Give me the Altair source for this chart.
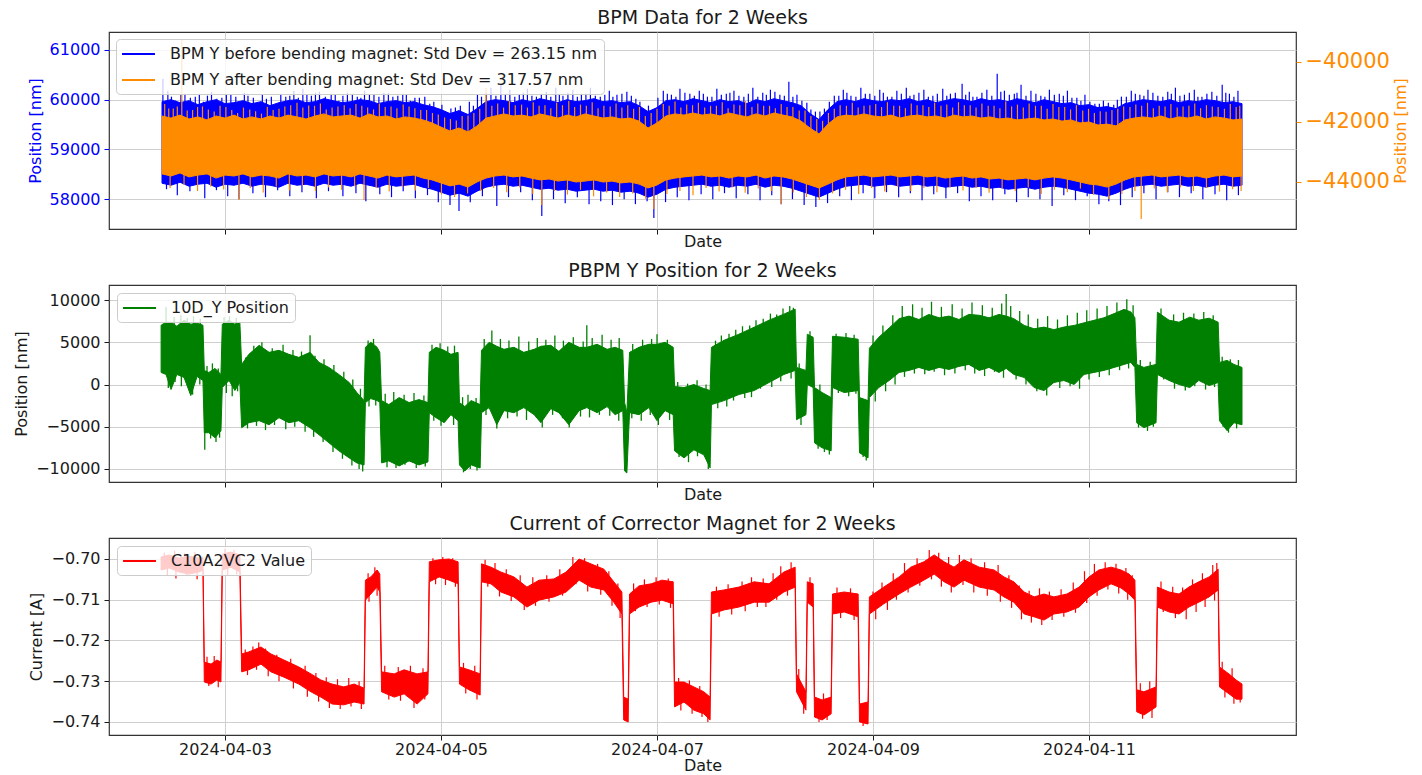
import altair as alt
import pandas as pd

FONT = "DejaVu Sans"
T0 = pd.Timestamp("2024-04-02 00:00:00")


def when(hours):
    """Hours counted from 2024-04-02 00:00 -> timestamps."""
    return [T0 + pd.Timedelta(hours=float(h)) for h in hours]


# ---------------------------------------------------------------- BPM (top)
LABEL_BEFORE = "BPM Y before bending magnet: Std Dev = 263.15 nm"
LABEL_AFTER = "BPM Y after bending magnet: Std Dev = 317.57 nm"

# dense core of the two BPM traces, sampled every 2 h
BPM_HOURS = list(range(10, 251, 2))

BEFORE_HI = [
    59960, 60000, 59940, 59980, 59900, 59960, 60000, 59920, 59940, 59980,
    59920, 59960, 59880, 59940, 59980, 60000, 59940, 59960, 60020, 59980,
    59940, 59960, 60000, 59980, 59920, 59960, 59980, 59940, 59960, 59900,
    59860, 59800, 59720, 59780, 59700, 59820, 59960, 60000, 59980, 59940,
    60000, 59960, 60020, 59980, 59940, 60000, 59960, 59980, 60020, 59960,
    59980, 59940, 59960, 59880, 59760, 59840, 59980, 60000, 59960, 60020,
    59980, 59940, 60000, 59960, 59980, 59920, 60000, 59960, 60020, 59980,
    59940, 59880, 59720, 59600, 59800, 59960, 60000, 59960, 60020, 59980,
    59960, 60000, 59980, 60020, 59960, 60000, 59940, 59980, 60020, 60000,
    59960, 60020, 59980, 60000, 59960, 60020, 59980, 59940, 60000, 59960,
    59920, 59940, 59880, 59900, 59840, 59860, 59820, 59920, 59960, 60000,
    59980, 59960, 60000, 59940, 59980, 59960, 60000, 59980, 59940, 59960,
    59920,
]
BEFORE_LO = [
    58320, 58280, 58340, 58260, 58300, 58320, 58240, 58300, 58280, 58320,
    58260, 58300, 58280, 58240, 58320, 58280, 58300, 58260, 58320, 58280,
    58300, 58260, 58320, 58280, 58240, 58300, 58260, 58280, 58300, 58240,
    58200, 58140, 58080, 58120, 58060, 58160, 58240, 58280, 58300, 58260,
    58280, 58240, 58200, 58220, 58180, 58200, 58160, 58180, 58200, 58160,
    58180, 58140, 58160, 58120, 58040, 58100, 58200, 58240, 58260, 58280,
    58300, 58260, 58280, 58240, 58280, 58260, 58300, 58240, 58280, 58260,
    58220, 58160, 58100, 58040, 58120, 58200, 58260, 58280, 58300, 58260,
    58280, 58300, 58260, 58280, 58300, 58260, 58280, 58240, 58260, 58280,
    58240, 58260, 58220, 58240, 58200, 58220, 58240, 58200, 58240, 58260,
    58240, 58200, 58160, 58120, 58100, 58060, 58120, 58200, 58260, 58280,
    58300, 58260, 58280, 58300, 58260, 58280, 58240, 58280, 58300, 58260,
    58280,
]
AFTER_HI = [
    -41800, -41870, -41770, -41900, -41830, -41930, -41800, -41870, -41770, -41900,
    -41830, -41900, -41800, -41870, -41770, -41830, -41900, -41800, -41730, -41830,
    -41800, -41770, -41870, -41730, -41830, -41800, -41900, -41830, -41870, -41930,
    -42030, -42170, -42300, -42200, -42330, -42130, -41870, -41800, -41730, -41800,
    -41770, -41830, -41730, -41800, -41870, -41770, -41830, -41730, -41800, -41870,
    -41830, -41900, -41870, -41970, -42200, -42030, -41800, -41730, -41770, -41700,
    -41770, -41730, -41800, -41700, -41770, -41830, -41730, -41800, -41700, -41770,
    -41830, -41970, -42200, -42400, -42070, -41830, -41770, -41800, -41730, -41800,
    -41830, -41770, -41870, -41800, -41770, -41830, -41800, -41870, -41770, -41830,
    -41800, -41870, -41830, -41900, -41870, -41930, -41900, -41870, -41930, -41900,
    -41970, -41930, -42030, -42000, -42100, -42070, -42130, -41930, -41870, -41830,
    -41870, -41800, -41900, -41830, -41870, -41800, -41900, -41830, -41870, -41930,
    -41900,
]
AFTER_LO = [
    -43730, -43800, -43700, -43830, -43770, -43730, -43870, -43770, -43800, -43730,
    -43830, -43770, -43800, -43870, -43730, -43800, -43770, -43830, -43730, -43800,
    -43770, -43830, -43730, -43800, -43870, -43770, -43830, -43800, -43770, -43870,
    -43930, -44030, -44130, -44070, -44170, -44000, -43870, -43800, -43770, -43830,
    -43800, -43870, -43930, -43900, -43970, -43930, -44000, -43970, -43930, -44000,
    -43970, -44030, -44000, -44070, -44200, -44100, -43930, -43870, -43830, -43800,
    -43770, -43830, -43800, -43870, -43800, -43830, -43770, -43870, -43800, -43830,
    -43900, -44000, -44100, -44200, -44070, -43930, -43830, -43800, -43770, -43830,
    -43800, -43770, -43830, -43800, -43770, -43830, -43800, -43870, -43830, -43800,
    -43870, -43830, -43900, -43870, -43930, -43900, -43870, -43930, -43870, -43830,
    -43870, -43930, -44000, -44070, -44100, -44170, -44070, -43930, -43830, -43800,
    -43770, -43830, -43800, -43770, -43830, -43800, -43870, -43800, -43770, -43830,
    -43800,
]

# individual excursions of the BPM traces beyond their dense core
BEFORE_CENTER = 59000
BEFORE_SPIKE_H = [
    # upward
    10.2, 11.3, 13.0, 15.1, 17.4, 19.2, 21.0, 23.3, 25.3, 27.4, 29.1, 31.4, 33.2, 35.2,
    37.5, 39.3, 41.3, 43.2, 45.0, 47.6, 49.3, 51.2, 53.4, 55.0, 57.1, 59.3, 61.3, 63.5,
    65.2, 67.2, 69.5, 71.3, 73.1, 75.2, 77.4, 79.2, 81.0, 83.1, 85.3, 87.3, 89.4, 91.2,
    93.2, 95.4, 97.5, 99.1, 101.3, 103.2, 105.2, 107.4, 109.4, 111.1, 113.3, 115.3,
    117.2, 119.0, 121.4, 123.2, 125.1, 127.3, 129.4, 131.2, 133.3, 135.4, 137.1, 139.3,
    141.3, 143.5, 145.2, 147.3, 149.3, 151.1, 153.3, 155.2, 157.2, 159.4, 161.4, 163.1,
    165.3, 167.3, 169.5, 171.2, 173.3, 175.4, 177.1, 179.3, 181.3, 183.5, 185.2, 187.8,
    189.4, 191.1, 193.3, 195.6, 197.2, 199.4, 200.9, 203.1, 205.3, 207.2, 209.4, 211.2,
    213.3, 215.1, 217.3, 219.2, 221.5, 223.2, 225.4, 227.3, 229.1, 231.3, 233.5, 235.2,
    237.2, 239.4, 241.1, 243.3, 245.6, 247.2, 249.1,
    # upward, smaller
    12.1, 14.2, 16.3, 18.3, 20.1, 22.2, 24.3, 26.4, 28.3, 30.3, 32.3, 34.3, 36.4, 38.4,
    40.3, 42.2, 44.1, 46.3, 48.5, 50.2, 52.3, 54.2, 56.1, 58.2, 60.3, 62.4, 64.3, 66.2,
    68.4, 70.4, 72.2, 74.2, 76.3, 78.3, 80.1, 82.1, 84.2, 86.3, 88.4, 90.3, 92.2, 94.3,
    96.4, 98.3, 100.2, 102.3, 104.2, 106.3, 108.4, 110.2, 112.2, 114.3, 116.2, 118.1,
    120.2, 122.3, 124.2, 126.2, 128.3, 130.3, 132.2, 134.3, 136.2, 138.2, 140.3, 142.4,
    144.3, 146.2, 148.3, 150.2, 152.2, 154.2, 156.2, 158.3, 160.4, 162.2, 164.2, 166.3,
    168.4, 170.3, 172.2, 174.3, 176.2, 178.2, 180.3, 182.3, 184.4, 186.3, 188.6, 190.2,
    192.2, 194.4, 196.4, 198.3, 200.0, 202.0, 204.2, 206.2, 208.3, 210.3, 212.2, 214.2,
    216.2, 218.3, 220.3, 222.3, 224.3, 226.3, 228.2, 230.2, 232.4, 234.3, 236.2, 238.3,
    240.2, 242.2, 244.4, 246.4, 248.2,
    # downward
    11.0, 13.4, 16.2, 19.5, 22.1, 24.6, 27.1, 30.2, 33.0, 35.7, 38.4, 41.1, 44.3, 47.0,
    50.2, 53.1, 55.3, 58.4, 61.0, 63.6, 66.3, 69.0, 71.4, 74.0, 76.0, 78.5, 81.2, 84.4,
    87.0, 89.7, 92.3, 94.4, 97.0, 99.6, 102.3, 104.9, 107.5, 110.1, 112.7, 115.2, 117.8,
    119.3, 121.9, 124.5, 127.1, 129.8, 132.4, 135.0, 137.6, 140.2, 142.9, 145.5, 147.6,
    150.1, 152.7, 155.3, 157.9, 160.6, 163.2, 165.8, 168.4, 171.0, 173.7, 176.3, 178.9,
    181.5, 184.2, 186.8, 189.4, 192.0, 194.6, 197.3, 199.9, 202.5, 205.1, 207.8, 210.4,
    213.0, 215.6, 218.2, 220.4, 223.0, 225.6, 228.2, 230.9, 233.5, 236.1, 238.7, 241.3,
    244.0, 246.6, 249.2,
]
BEFORE_SPIKE_V = [
    60420, 60180, 59980, 60120, 60060, 59960, 60150, 60040, 60100, 59960, 60080, 59900, 60020, 59880,
    60060, 60180, 60220, 60080, 60160, 60120, 59980, 60140, 60060, 60180, 60100, 60140, 60060, 60120,
    59980, 60040, 59920, 59800, 59720, 59840, 59680, 59880, 60060, 60240, 60320, 60200, 60100, 60220,
    60060, 60160, 60240, 60080, 60200, 60120, 60240, 60060, 60180, 60100, 60160, 60020,
    59800, 59760, 60180, 60100, 60220, 60120, 60180, 60060, 60220, 60120, 60180, 60060,
    60240, 60140, 60200, 60100, 60360, 60100, 59940, 59760, 59820, 60080, 60200, 60080,
    60240, 60120, 60200, 60060, 60180, 60240, 60100, 60200, 60080, 60220, 60120, 60320,
    60160, 60060, 60200, 60520, 60180, 60120, 60300, 60180, 60080, 60200, 60120, 60180,
    60040, 60100, 59920, 59980, 59900, 60060, 60180, 60100, 60200, 60080, 60160, 60240,
    60100, 60200, 60060, 60160, 60300, 60120, 60180,
    60060, 60100, 60040, 60120, 60080, 60020, 60100, 60060, 60140, 60040, 60100, 60060, 60120, 60080,
    60040, 60100, 60140, 60060, 60100, 60080, 60120, 60040, 60100, 60060, 60140, 60080, 60100, 60040,
    60060, 59960, 59900, 59820, 59880, 59960, 60100, 60140, 60080, 60120, 60060, 60140, 60080, 60120,
    60060, 60100, 60140, 60060, 60120, 60080, 60100, 60060, 60120, 60080, 59960, 59880,
    60040, 60120, 60060, 60140, 60080, 60120, 60060, 60100, 60140, 60080, 60120, 60060,
    60100, 60160, 60080, 60060, 59980, 59800, 59760, 59960, 60080, 60140, 60060, 60120,
    60080, 60140, 60060, 60120, 60080, 60140, 60060, 60120, 60080, 60140, 60100, 60060,
    60140, 60080, 60160, 60100, 60140, 60080, 60120, 60060, 60100, 60080, 60040, 59980,
    59960, 59920, 59940, 60000, 60060, 60120, 60080, 60140, 60060, 60120, 60080, 60140,
    60060, 60120, 60080, 60140, 60060,
    58200, 58080, 58160, 58020, 58180, 58060, 58000, 58120, 58040, 58180, 58060, 58140, 58020, 58160,
    58060, 58120, 57960, 58100, 58040, 58160, 58020, 58080, 57940, 57880, 57760, 57940, 58060, 57860,
    58040, 58140, 57980, 57660, 58000, 57920, 58040, 57900, 57960, 57880, 58000, 57900, 57960,
    57620, 57940, 58040, 57980, 58100, 58000, 58120, 58020, 58100, 57980, 58080, 57900,
    58000, 57880, 57840, 57920, 58060, 57980, 58120, 58020, 58140, 58040, 58120, 57980,
    58100, 58020, 58120, 57960, 58060, 57980, 58100, 57940, 58040, 58000, 57860, 58080,
    57980, 58060, 57900, 57960, 57880, 58040, 58120, 58000, 58140, 58040, 58120, 58000,
    58100, 57980, 58080,
]

AFTER_CENTER = -42800
AFTER_SPIKE_H = [
    # upward
    10.6, 12.5, 14.4, 16.8, 19.0, 21.6, 24.2, 26.8, 29.5, 32.1, 34.7, 37.3, 40.0, 42.6,
    45.2, 47.8, 50.5, 53.1, 55.7, 58.3, 60.9, 63.6, 66.2, 68.8, 71.4, 74.1, 76.7, 79.3,
    82.0, 84.6, 87.2, 89.9, 92.5, 95.1, 97.7, 100.4, 103.0, 105.6, 108.2, 110.9, 113.5,
    116.1, 118.7, 121.4, 124.0, 126.6, 129.2, 131.9, 134.5, 137.1, 139.7, 142.4, 145.0,
    147.6, 150.2, 152.9, 155.5, 158.1, 160.7, 163.4, 166.0, 168.6, 171.2, 173.9, 176.5,
    179.1, 181.7, 184.4, 187.0, 189.6, 192.2, 194.9, 197.5, 200.1, 202.7, 205.4, 208.0,
    210.6, 213.2, 215.9, 218.5, 221.1, 223.7, 226.4, 229.0, 231.6, 234.2, 236.9, 239.5,
    242.1, 244.7, 247.4, 249.5,
    # upward, smaller
    11.5, 13.4, 15.6, 17.9, 20.3, 22.9, 25.5, 28.1, 30.8, 33.4, 36.0, 38.6, 41.3, 43.9,
    46.5, 49.1, 51.8, 54.4, 57.0, 59.6, 62.2, 64.9, 67.5, 70.1, 72.8, 75.4, 78.0, 80.6,
    83.3, 85.9, 88.5, 91.2, 93.8, 96.4, 99.0, 101.7, 104.3, 106.9, 109.6, 112.2, 114.8,
    117.4, 120.0, 122.7, 125.3, 127.9, 130.6, 133.2, 135.8, 138.4, 141.1, 143.7, 146.3,
    148.9, 151.6, 154.2, 156.8, 159.4, 162.1, 164.7, 167.3, 169.9, 172.6, 175.2, 177.8,
    180.4, 183.1, 185.7, 188.3, 190.9, 193.6, 196.2, 198.8, 201.4, 204.1, 206.7, 209.3,
    211.9, 214.6, 217.2, 219.8, 222.4, 225.1, 227.7, 230.3, 232.9, 235.6, 238.2, 240.8,
    243.4, 246.1, 248.7,
    # downward
    11.8, 14.9, 17.9, 20.8, 23.7, 27.1, 29.6, 32.5, 35.4, 38.3, 41.2, 44.1, 47.0, 49.9,
    52.8, 54.9, 57.6, 60.5, 63.4, 66.3, 69.2, 72.1, 75.0, 77.9, 80.8, 83.7, 86.6, 89.5,
    92.4, 94.4, 97.2, 100.1, 103.0, 105.9, 108.8, 111.7, 114.6, 117.5, 119.3, 122.2,
    125.1, 128.0, 130.9, 133.8, 136.7, 139.6, 142.5, 145.4, 147.6, 150.3, 153.2, 156.1,
    159.0, 161.9, 164.8, 167.7, 170.6, 173.5, 176.4, 179.3, 182.2, 185.1, 188.0, 190.9,
    193.8, 196.7, 199.6, 202.5, 205.4, 208.3, 211.2, 214.1, 217.0, 220.4, 223.3, 226.2,
    227.6, 230.5, 233.4, 236.3, 239.2, 242.1, 245.0, 247.9, 249.8,
]
AFTER_SPIKE_V = [
    -41400, -41550, -39270, -41600, -41480, -41650, -41500, -41700, -41580, -41720, -41600, -41480, -41360, -41450,
    -41380, -41520, -41440, -41400, -41520, -41380, -41480, -41420, -41540, -41600, -41750, -41900, -41800, -41700,
    -40870, -41380, -41300, -41420, -41340, -41440, -41360, -41300, -41420, -41340, -41460, -41380, -41440,
    -41500, -41700, -41400, -41320, -41420, -41360, -41460, -41340, -41420, -41300, -41380, -41460,
    -41400, -41500, -41620, -41900, -41700, -41440, -41360, -41460, -41400, -41340, -41460, -41380,
    -41440, -41360, -41420, -41340, -41440, -41380, -41460, -41320, -41420, -41380, -41460, -41400,
    -41500, -41440, -41560, -41640, -41600, -41480, -41420, -41360, -41460, -41400, -41480, -41380,
    -41440, -41500, -41400, -41460,
    -41550, -41480, -41620, -41500, -41580, -41460, -41600, -41520, -41640, -41500, -41560, -41440, -41520, -41460,
    -41580, -41480, -41540, -41460, -41580, -41500, -41540, -41480, -41600, -41700, -41850, -41950, -41780, -41560,
    -41460, -41520, -41440, -41520, -41460, -41540, -41440, -41500, -41460, -41540, -41480, -41520, -41560,
    -41800, -41560, -41460, -41520, -41440, -41520, -41460, -41540, -41440, -41500, -41460, -41540,
    -41500, -41620, -41800, -41960, -41560, -41460, -41520, -41440, -41500, -41460, -41540, -41440,
    -41500, -41460, -41520, -41440, -41520, -41460, -41540, -41480, -41520, -41460, -41560, -41500,
    -41580, -41620, -41700, -41660, -41560, -41500, -41460, -41540, -41480, -41520, -41460, -41540,
    -41480, -41560, -41500,
    -44200, -44100, -44300, -44150, -44250, -44600, -44200, -44350, -44150, -44280, -44120, -44300, -44180, -44260,
    -44140, -44600, -44200, -44320, -44160, -44280, -44200, -44420, -44500, -44380, -44300, -44200, -44340, -44180,
    -44400, -44770, -44300, -44420, -44260, -44480, -44350, -44500, -44380, -44560, -44900, -44400,
    -44300, -44440, -44200, -44320, -44180, -44360, -44220, -44300, -44730, -44350, -44500, -44600,
    -44380, -44260, -44400, -44200, -44320, -44160, -44300, -44200, -44340, -44180, -44280, -44200,
    -44360, -44220, -44300, -44180, -44400, -44260, -44340, -44220, -44420, -44570, -44400, -44300,
    -45230, -44220, -44340, -44180, -44300, -44200, -44320, -44240, -44300,
]

# ---------------------------------------------------------------- PBPM (middle)
LABEL_PBPM = "10D_Y Position"

PBPM_H = [
    9.8, 10.9, 12.0, 13.3, 14.9, 16.4, 17.8, 19.1,
    19.4, 20.4, 21.8, 23.1,
    23.4, 24.9, 26.2, 27.3,
    27.7, 29.3, 31.6, 33.8, 36.0, 38.2, 40.4, 42.9, 44.9, 47.1, 49.3, 51.6, 53.3, 54.9,
    55.2, 56.4, 57.8, 58.4,
    58.8, 60.4, 62.7, 64.9, 67.1, 69.1,
    69.4, 70.9, 72.7, 74.2, 75.8,
    76.1, 77.3, 78.7, 80.7,
    81.0, 82.7, 84.4, 86.0, 88.2, 90.4, 92.7, 94.2, 96.4, 98.2, 100.4, 102.7, 104.4,
    106.7, 108.9, 110.7, 112.4,
    112.8, 113.3,
    113.9, 116.0, 118.2, 120.0, 121.8, 123.6,
    123.9, 126.0, 128.2, 130.4, 131.8,
    132.1, 134.9, 138.2, 141.6, 144.9, 148.2, 150.7,
    151.0, 153.1,
    153.4, 154.7,
    155.0, 156.7, 158.7,
    159.0, 161.6, 164.7,
    165.0, 166.9,
    167.2, 169.3, 171.6, 173.8, 176.0, 178.2, 180.4, 182.7, 184.9, 187.1, 189.3, 191.6,
    193.8, 196.0, 197.6, 199.3, 201.6, 203.8, 206.0, 208.2, 210.4, 212.7, 214.9, 217.1,
    219.3, 221.6, 223.8, 225.3, 226.2,
    226.6, 228.2, 230.9,
    231.2, 233.8, 236.0, 238.4, 240.4, 242.7, 244.7,
    245.0, 246.7, 248.2, 250.0,
]
PBPM_HI = [
    7024, 7381, 7381, 6905, 7619, 7143, 7262, 7024,
    1667, 1429, 1905, 1191,
    7143, 7619, 7143, 7381,
    2381, 3572, 4643, 3810, 4048, 3572, 3214, 3810, 2619, 2024, 1191, 238, -952, -1905,
    4405, 5000, 4405, 3810,
    -1905, -2381, -1548, -2143, -1786, -2143,
    3810, 4405, 4048, 3572, 3810,
    -2143, -2619, -1905, -2381,
    4048, 5000, 4524, 4167, 4405, 3810, 4167, 4524, 4643, 3929, 5000, 4405, 4405,
    4762, 4167, 4405, 4048,
    -2143, -3333,
    3810, 4405, 4762, 4762, 5000, 4405,
    -238, -357, 0, -476, -714,
    4405, 5238, 5953, 6786, 7619, 8334, 8929,
    2024, 1667,
    5953, 5595,
    -357, -952, -1548,
    5714, 5595, 5357,
    -1548, -1905,
    4300, 5600, 6700, 7800, 8100, 7700, 8300, 7900, 8100, 7700, 8300, 8200,
    7900, 8300, 8100, 7800, 7000, 6600, 6800, 6500, 6800, 7000, 7300, 7600,
    7900, 8400, 8900, 8600, 7900,
    2381, 2024, 2381,
    8572, 7619, 7381, 7976, 7619, 7857, 7381,
    2619, 2857, 2381, 2024,
]
PBPM_LO = [
    1429, 1191, -595, 1191, 833, -1310, 952, 476,
    -5714, -5714, -6310, -5476,
    -357, 476, -714, 238,
    -5119, -4524, -4286, -4762, -3929, -4524, -4286, -5119, -5953, -6905, -7857, -8691, -9286, -9524,
    -2143, -1667, -1905, -2143,
    -9286, -9048, -9643, -9048, -9524, -9167,
    -3333, -3929, -4524, -3572, -4286,
    -9524, -10238, -9524, -9881,
    -3333, -2738, -4762, -3095, -3333, -2738, -3572, -4524, -2857, -3333, -4762, -3095, -2738,
    -3333, -2619, -3572, -3095,
    -10238, -10476,
    -3333, -3572, -2738, -4286, -3095, -3572,
    -7857, -8691, -7738, -8334, -9881,
    -2381, -1905, -1191, -714, 238, 1191, 1667,
    -4167, -3572,
    0, -357,
    -6905, -7500, -7857,
    -357, -952, -714,
    -8095, -8691,
    -1548, -357, 476, 1429, 1667, 2024, 1667, 2024, 1786, 2143, 2381, 1667,
    2024, 1429, 1905, 1191, 833, -357, -714, 238, 476, 0, 1191, 1429,
    1667, 2024, 2381, 2619, 2024,
    -4524, -5119, -4524,
    1191, 476, 0, -357, 476, -119, 238,
    -4286, -5476, -4524, -4762,
]
# excursions: time, level inside the band where the excursion starts, peak
PBPM_SPIKE_H = [
    10.9, 12.7, 14.2, 15.6, 17.0, 18.5, 11.4, 12.9, 14.3, 15.8, 16.8, 18.4,
    20.0, 21.2, 22.5, 19.5, 20.8, 22.0, 22.8,
    23.8, 25.0, 26.5, 24.3, 25.6, 26.8,
    28.6, 30.4, 32.2, 34.5, 36.9, 39.1, 41.0, 42.9, 44.0, 46.0, 48.2, 50.4, 52.4, 54.1,
    29.0, 31.0, 33.0, 35.0, 37.5, 39.5, 41.8, 43.7, 45.8, 48.0, 50.1, 52.2, 53.8, 54.6,
    55.8, 57.0, 56.0, 57.5,
    59.6, 61.5, 63.8, 66.0, 68.2, 60.0, 62.0, 64.0, 66.5, 68.5,
    70.0, 71.8, 73.5, 75.0, 70.4, 72.0, 74.8,
    76.8, 78.0, 79.8, 77.0, 78.5, 80.0,
    81.6, 83.3, 85.2, 87.1, 89.3, 91.5, 93.4, 95.3, 97.3, 99.2, 101.4, 103.6, 104.4,
    105.6, 107.8, 109.8, 111.6,
    82.0, 84.4, 86.8, 88.9, 91.0, 93.2, 94.5, 96.8, 99.0, 100.5, 103.0, 105.0, 107.2,
    109.5, 111.5,
    114.6, 116.8, 118.8, 120.0, 122.3, 114.4, 116.5, 118.5, 120.3, 122.8,
    124.6, 126.8, 128.9, 130.9, 124.9, 127.0, 129.0, 131.4,
    133.0, 134.3, 136.0, 137.5, 139.0, 140.6, 142.0, 143.6, 145.2, 146.6, 148.0, 149.5, 150.3,
    133.5, 135.5, 137.0, 139.5, 141.0, 143.0, 145.5, 147.5, 149.8,
    151.6, 152.0, 154.0, 156.2, 155.8, 157.2, 158.3,
    159.8, 162.0, 163.8, 160.3, 162.6, 164.2, 165.8, 166.5,
    168.0, 170.2, 172.4, 174.5, 176.8, 178.9, 181.0, 183.2, 185.6, 187.8, 190.0, 192.3,
    194.5, 196.6, 197.6, 198.6, 200.6, 202.5, 204.6, 206.8, 209.0, 211.2, 213.4, 215.5,
    217.8, 220.0, 222.2, 224.4, 225.8,
    168.5, 170.8, 172.9, 175.0, 177.2, 179.5, 181.6, 183.9, 186.2, 188.5, 190.6, 192.8,
    195.0, 197.0, 199.8, 202.0, 204.4, 206.6, 209.5, 211.8, 213.9, 216.0, 218.3, 220.5,
    222.8, 224.8,
    227.4, 229.6, 227.0, 229.0, 230.3,
    232.0, 234.8, 237.0, 239.3, 241.5, 243.6, 232.6, 235.0, 237.4, 239.5, 241.9, 243.9,
    245.6, 247.4, 249.2, 245.8, 247.0, 248.8,
]
PBPM_SPIKE_BASE = [
    4000, 4000, 4000, 4000, 4000, 4000, 4000, 4000, 4000, 4000, 4000, 4000,
    -2000, -2000, -2000, -2000, -2000, -2000, -2000,
    3500, 3500, 3500, 3500, 3500, 3500,
    -1000, 0, 0, 0, 0, 0, -500, -500, -1500, -2000, -3000, -4000, -5000, -5500,
    -1000, -1000, -1000, -1000, -1000, -1000, -1000, -1000, -2000, -3000, -4000, -5000, -6000, -6000,
    1000, 1000, 1000, 1000,
    -5500, -5500, -5500, -5500, -5500, -5500, -5500, -5500, -5500, -5500,
    0, 0, 0, 0, 0, 0, 0,
    -6000, -6000, -6000, -6000, -6000, -6000,
    0, 0, 0, 0, 0, 0, 0, 0, 0, 0, 0, 0, 0,
    0, 0, 0, 0,
    0, 0, 0, 0, 0, 0, 0, 0, 0, 0, 0, 0, 0,
    0, 0,
    0, 0, 0, 0, 0, 0, 0, 0, 0, 0,
    -4000, -4000, -4000, -4000, -4000, -4000, -4000, -4000,
    1000, 1000, 2000, 2000, 2500, 3000, 3000, 3500, 4000, 4000, 5000, 5000, 5000,
    1000, 1000, 2000, 2500, 3000, 3000, 4000, 5000, 5000,
    -1000, -1000, 2500, -4000, -4000, -4000, -4000,
    2000, 2000, 2000, 2000, 2000, 2000, -5000, -5000,
    4500, 4500, 4500, 4500, 4500, 4500, 4500, 4500, 4500, 4500, 4500, 4500,
    4500, 4500, 4500, 4500, 4500, 4500, 4500, 4500, 4500, 4500, 4500, 4500,
    4500, 4500, 4500, 4500, 4500,
    4500, 4500, 4500, 4500, 4500, 4500, 4500, 4500, 4500, 4500, 4500, 4500,
    4500, 4500, 4500, 4500, 4500, 4500, 4500, 4500, 4500, 4500, 4500, 4500,
    4500, 4500,
    -1000, -1000, -1000, -1000, -1000,
    3500, 3500, 3500, 3500, 3500, 3500, 3500, 3500, 3500, 3500, 3500, 3500,
    -1000, -1000, -1000, -1000, -1000, -1000,
]
PBPM_SPIKE_V = [
    9170, 8000, 8200, 7900, 8100, 7800, -400, 300, -200, 500, -1200, 0,
    2200, 2500, 1900, -7740, -6400, -6800, -6300,
    8000, 8100, 7900, -1000, -1400, -800,
    3200, 4600, 5000, 4300, 4700, 4100, 3900, 5830, 3400, 3000, 2300, 1500, 600, -500,
    -5200, -4900, -5400, -4800, -5300, -5000, -5600, -6200, -6800, -8000, -8800, -9600, -10000, -10300,
    5200, 5400, -2600, -2500,
    -1100, -900, -1200, -1000, -1300, -9800, -9900, -9500, -9900, -9700,
    4700, 4900, 4500, 4600, -4300, -4900, -4800,
    -1500, -1200, -1600, -10400, -10000, -10200,
    5400, 6400, 5400, 5200, 5700, 5100, 5500, 5300, 5800, 5200, 5600, 5100, 7020,
    5500, 5900, 5300, 5500,
    -3600, -5200, -4000, -3800, -4200, -3900, -5100, -3600, -4000, -5100, -3800, -3900, -3600,
    -3700, -4300,
    4800, 5300, 5400, 5950, 5300, -4000, -4300, -3600, -4800, -4200,
    300, 100, 500, 0, -8600, -9200, -8500, -10000,
    5200, 5800, 6000, 6500, 6900, 7000, 7600, 7800, 8400, 8300, 9000, 9300, 9100,
    -2800, -2600, -1900, -1600, -1500, -500, -300, 400, 700,
    2500, -4800, 6300, 0, -7600, -8000, -8300,
    6000, 6100, 5900, -1000, -1400, -1100, -8600, -9000,
    5800, 7000, 8200, 9300, 9500, 9100, 9800, 9200, 9500, 9000, 9700, 9400,
    9100, 9600, 10710, 9300, 8700, 8300, 7800, 8100, 7700, 8200, 8500, 8800,
    9000, 9300, 9700, 10100, 9400,
    -2000, -800, 0, 900, 1300, 1200, 1500, 1100, 1300, 1700, 1300, 1000,
    1500, 800, 600, 0, -800, -1300, -400, -200, -500, 600, 900, 1100,
    1700, 1900,
    2900, 2700, -5100, -5500, -5000,
    9000, 8300, 8500, 8400, 8600, 8200, 600, -500, -700, -200, -600, -300,
    3300, 3000, 2900, -5000, -5700, -5200,
]

# ---------------------------------------------------------------- corrector (bottom)
LABEL_CORR = "C10A2VC2 Value"

CORR_H = [
    9.8, 11.6, 13.8, 16.0, 18.2, 19.1,
    19.4, 20.9, 22.2, 23.1,
    23.4, 25.3, 27.3,
    27.7, 29.3, 32.0, 34.2, 37.1, 40.4, 43.1, 45.3, 47.8, 50.4, 52.7, 54.9,
    55.2, 56.4, 57.8, 58.4,
    58.8, 61.6, 63.8, 66.7, 69.1,
    69.4, 71.6, 73.8, 75.8,
    76.1, 78.2, 80.7,
    81.0, 83.1, 85.3, 88.2, 91.1, 93.8, 97.1, 99.8, 102.7, 105.3, 108.2, 110.4, 112.2,
    112.6, 113.6,
    113.9, 116.0, 118.7, 121.1, 123.6,
    123.9, 126.0, 128.2, 130.4, 131.8,
    132.1, 134.9, 138.2, 141.6, 144.9, 148.2, 150.7,
    151.0, 153.1,
    153.4, 154.7,
    155.0, 156.7, 158.7,
    159.0, 161.6, 164.7,
    165.0, 166.9,
    167.2, 170.4, 173.8, 176.4, 179.3, 181.6, 183.8, 186.0, 188.2, 191.6, 194.9, 197.1,
    199.3, 201.6, 203.8, 206.0, 208.2, 211.1, 213.8, 216.0, 218.2, 220.9, 223.1, 224.9, 226.2,
    226.6, 228.2, 230.9,
    231.2, 233.8, 236.0, 238.2, 240.4, 242.7, 244.7,
    245.0, 247.1, 248.7, 250.0,
]
CORR_HI = [
    -0.6995, -0.6990, -0.6998, -0.6993, -0.6998, -0.6995,
    -0.7253, -0.7258, -0.7248, -0.7253,
    -0.6988, -0.6983, -0.6990,
    -0.7233, -0.7228, -0.7216, -0.7233, -0.7248, -0.7265, -0.7282, -0.7297, -0.7307, -0.7314, -0.7307, -0.7317,
    -0.7052, -0.7044, -0.7027, -0.7037,
    -0.7277, -0.7282, -0.7272, -0.7282, -0.7277,
    -0.7007, -0.7002, -0.7000, -0.7007,
    -0.7265, -0.7272, -0.7282,
    -0.7012, -0.7020, -0.7032, -0.7044, -0.7069, -0.7052, -0.7049, -0.7032, -0.7000, -0.7012, -0.7025, -0.7056, -0.7081,
    -0.7339, -0.7344,
    -0.7086, -0.7066, -0.7061, -0.7052, -0.7056,
    -0.7302, -0.7302, -0.7314, -0.7326, -0.7339,
    -0.7081, -0.7076, -0.7069, -0.7056, -0.7061, -0.7032, -0.7020,
    -0.7282, -0.7326,
    -0.7056, -0.7061,
    -0.7339, -0.7346, -0.7339,
    -0.7086, -0.7081, -0.7086,
    -0.7356, -0.7351,
    -0.7093, -0.7069, -0.7044, -0.7020, -0.7007, -0.6990, -0.7007, -0.7020, -0.7002, -0.7020, -0.7027, -0.7044,
    -0.7056, -0.7081, -0.7093, -0.7086, -0.7093, -0.7086, -0.7069, -0.7044, -0.7027, -0.7020, -0.7027, -0.7037, -0.7052,
    -0.7321, -0.7326, -0.7314,
    -0.7069, -0.7081, -0.7086, -0.7069, -0.7056, -0.7044, -0.7025,
    -0.7265, -0.7282, -0.7297, -0.7307,
]
CORR_LO = [
    -0.7027, -0.7022, -0.7032, -0.7037, -0.7032, -0.7027,
    -0.7302, -0.7307, -0.7297, -0.7302,
    -0.7027, -0.7020, -0.7032,
    -0.7277, -0.7272, -0.7258, -0.7277, -0.7290, -0.7307, -0.7326, -0.7339, -0.7356, -0.7358, -0.7351, -0.7356,
    -0.7101, -0.7086, -0.7069, -0.7081,
    -0.7326, -0.7339, -0.7331, -0.7356, -0.7331,
    -0.7056, -0.7044, -0.7052, -0.7061,
    -0.7307, -0.7321, -0.7334,
    -0.7056, -0.7061, -0.7081, -0.7093, -0.7118, -0.7101, -0.7093, -0.7081, -0.7052, -0.7069, -0.7076, -0.7106, -0.7135,
    -0.7395, -0.7400,
    -0.7135, -0.7118, -0.7106, -0.7101, -0.7110,
    -0.7363, -0.7351, -0.7371, -0.7380, -0.7395,
    -0.7135, -0.7125, -0.7118, -0.7106, -0.7106, -0.7081, -0.7069,
    -0.7326, -0.7371,
    -0.7106, -0.7118,
    -0.7388, -0.7395, -0.7380,
    -0.7135, -0.7130, -0.7142,
    -0.7400, -0.7405,
    -0.7135, -0.7110, -0.7086, -0.7069, -0.7052, -0.7037, -0.7056, -0.7069, -0.7052, -0.7069, -0.7076, -0.7093,
    -0.7106, -0.7135, -0.7142, -0.7150, -0.7135, -0.7130, -0.7118, -0.7093, -0.7076, -0.7061, -0.7071, -0.7086, -0.7101,
    -0.7375, -0.7383, -0.7363,
    -0.7118, -0.7130, -0.7135, -0.7118, -0.7106, -0.7093, -0.7076,
    -0.7314, -0.7331, -0.7344, -0.7344,
]
CORR_SPIKE_H = [
    10.5, 12.8, 15.0, 17.3, 11.2, 13.1, 15.5, 17.8,
    20.0, 21.6, 20.4, 22.5,
    24.0, 26.0, 24.6, 26.6,
    28.5, 30.2, 31.5, 33.0, 35.5, 38.6, 41.8, 44.2, 46.5, 49.0, 51.5, 53.8,
    29.0, 31.0, 33.6, 36.0, 39.2, 42.3, 44.8, 47.2, 49.6, 52.0, 54.3,
    55.8, 57.3, 56.0, 57.8,
    59.5, 62.5, 65.2, 68.0, 60.4, 63.0, 66.0, 68.4,
    70.2, 72.4, 74.6, 70.8, 73.0, 75.2,
    77.0, 79.5, 77.5, 80.0,
    81.8, 84.0, 86.5, 89.6, 92.4, 95.5, 98.4, 101.3, 103.9, 106.8, 109.3, 111.3,
    82.4, 85.0, 87.6, 90.5, 93.0, 96.0, 99.0, 102.0, 104.6, 107.5, 110.0, 111.8,
    114.8, 117.2, 119.8, 122.5, 115.2, 117.8, 120.5, 123.0,
    124.8, 127.2, 129.5, 125.3, 127.8, 130.0, 131.3,
    133.2, 135.8, 138.9, 141.0, 143.6, 145.8, 147.5, 149.8,
    133.8, 136.6, 139.6, 142.3, 144.2, 146.6, 149.0,
    151.5, 152.6, 154.0, 156.0, 157.8, 157.0,
    160.0, 163.0, 160.8, 163.8, 165.8,
    168.0, 170.0, 172.5, 175.0, 177.8, 180.5, 182.6, 184.8, 187.2, 189.8, 192.8, 195.8,
    198.2, 200.5, 202.7, 205.0, 207.2, 209.8, 212.5, 215.0, 217.2, 219.6, 222.0, 224.2, 225.6,
    168.6, 171.2, 173.2, 175.8, 178.4, 181.0, 183.2, 185.4, 188.0, 190.4, 193.4, 196.3,
    198.8, 201.0, 203.2, 205.5, 207.8, 210.4, 213.0, 215.5, 217.8, 220.2, 222.6, 224.6,
    227.4, 229.5, 227.9, 230.0,
    232.0, 234.6, 236.8, 239.0, 241.2, 243.5, 244.4,
    232.5, 235.2, 237.6, 239.8, 241.8, 243.9,
    245.6, 247.8, 246.2, 248.2, 249.6,
]
CORR_SPIKE_BASE = [
    -0.701, -0.701, -0.701, -0.701, -0.701, -0.701, -0.701, -0.701,
    -0.7277, -0.7277, -0.7277, -0.7277,
    -0.7005, -0.7005, -0.7005, -0.7005,
    -0.725, -0.725, -0.724, -0.725, -0.726, -0.728, -0.729, -0.731, -0.732, -0.733, -0.733, -0.733,
    -0.725, -0.724, -0.725, -0.726, -0.728, -0.729, -0.731, -0.732, -0.733, -0.733, -0.733,
    -0.7065, -0.7065, -0.7065, -0.7065,
    -0.730, -0.730, -0.730, -0.730, -0.730, -0.730, -0.730, -0.730,
    -0.703, -0.703, -0.703, -0.703, -0.703, -0.703,
    -0.730, -0.730, -0.730, -0.730,
    -0.703, -0.705, -0.706, -0.707, -0.708, -0.708, -0.706, -0.703, -0.704, -0.705, -0.707, -0.709,
    -0.703, -0.705, -0.706, -0.708, -0.708, -0.708, -0.706, -0.703, -0.704, -0.705, -0.707, -0.709,
    -0.709, -0.709, -0.709, -0.709, -0.709, -0.709, -0.709, -0.709,
    -0.734, -0.734, -0.734, -0.734, -0.734, -0.734, -0.734,
    -0.710, -0.710, -0.709, -0.708, -0.708, -0.707, -0.706, -0.705,
    -0.710, -0.710, -0.709, -0.708, -0.708, -0.707, -0.705,
    -0.730, -0.733, -0.708, -0.736, -0.736, -0.736,
    -0.711, -0.711, -0.711, -0.711, -0.738,
    -0.711, -0.709, -0.7065, -0.7045, -0.703, -0.7015, -0.702, -0.703, -0.703, -0.704, -0.705, -0.706,
    -0.708, -0.710, -0.711, -0.712, -0.712, -0.711, -0.710, -0.707, -0.705, -0.704, -0.705, -0.706, -0.707,
    -0.711, -0.709, -0.7065, -0.7045, -0.703, -0.7015, -0.702, -0.703, -0.703, -0.704, -0.705, -0.706,
    -0.708, -0.710, -0.711, -0.712, -0.712, -0.711, -0.710, -0.707, -0.705, -0.704, -0.705, -0.706,
    -0.735, -0.735, -0.735, -0.735,
    -0.709, -0.710, -0.711, -0.709, -0.708, -0.706, -0.705,
    -0.709, -0.710, -0.711, -0.709, -0.708, -0.706,
    -0.731, -0.731, -0.731, -0.731, -0.731,
]
CORR_SPIKE_V = [
    -0.6984, -0.6980, -0.6986, -0.6982, -0.7042, -0.7048, -0.7040, -0.7050,
    -0.7240, -0.7238, -0.7312, -0.7315,
    -0.6975, -0.6978, -0.7040, -0.7038,
    -0.7222, -0.7215, -0.7205, -0.7220, -0.7235, -0.7245, -0.7262, -0.7280, -0.7290, -0.7295, -0.7292, -0.7300,
    -0.7285, -0.7272, -0.7288, -0.7300, -0.7318, -0.7338, -0.7350, -0.7366, -0.7368, -0.7362, -0.7368,
    -0.7035, -0.7020, -0.7105, -0.7090,
    -0.7262, -0.7265, -0.7262, -0.7268, -0.7345, -0.7348, -0.7366, -0.7345,
    -0.6998, -0.6995, -0.6998, -0.7062, -0.7064, -0.7068,
    -0.7255, -0.7262, -0.7330, -0.7345,
    -0.7002, -0.7010, -0.7025, -0.7040, -0.7045, -0.7040, -0.7025, -0.6995, -0.6998, -0.7012, -0.7030, -0.7060,
    -0.7068, -0.7092, -0.7103, -0.7125, -0.7115, -0.7105, -0.7090, -0.7062, -0.7080, -0.7088, -0.7115, -0.7145,
    -0.7060, -0.7050, -0.7045, -0.7048, -0.7128, -0.7118, -0.7112, -0.7120,
    -0.7292, -0.7298, -0.7312, -0.7372, -0.7380, -0.7388, -0.7400,
    -0.7068, -0.7062, -0.7055, -0.7045, -0.7048, -0.7035, -0.7018, -0.7008,
    -0.7142, -0.7136, -0.7128, -0.7118, -0.7118, -0.7100, -0.7090,
    -0.7270, -0.7380, -0.7045, -0.7400, -0.7395, -0.7330,
    -0.7070, -0.7072, -0.7145, -0.7150, -0.7410,
    -0.7080, -0.7058, -0.7035, -0.7010, -0.6998, -0.6978, -0.6985, -0.6995, -0.6990, -0.6998, -0.7008, -0.7015,
    -0.7040, -0.7065, -0.7078, -0.7072, -0.7080, -0.7074, -0.7058, -0.7030, -0.7012, -0.7008, -0.7012, -0.7022, -0.7040,
    -0.7148, -0.7125, -0.7100, -0.7082, -0.7066, -0.7050, -0.7068, -0.7082, -0.7064, -0.7082, -0.7090, -0.7105,
    -0.7120, -0.7148, -0.7156, -0.7162, -0.7150, -0.7142, -0.7132, -0.7108, -0.7090, -0.7075, -0.7085, -0.7100,
    -0.7305, -0.7300, -0.7392, -0.7390,
    -0.7055, -0.7068, -0.7070, -0.7050, -0.7035, -0.7015, -0.7010,
    -0.7130, -0.7145, -0.7148, -0.7130, -0.7118, -0.7102,
    -0.7252, -0.7268, -0.7340, -0.7355, -0.7352,
]

# ---------------------------------------------------------------- tables
before_df = pd.DataFrame({"t": when(BPM_HOURS), "hi": BEFORE_HI, "lo": BEFORE_LO, "series": LABEL_BEFORE})
after_df = pd.DataFrame({"t": when(BPM_HOURS), "hi": AFTER_HI, "lo": AFTER_LO, "series": LABEL_AFTER})
before_spk = pd.DataFrame({"t": when(BEFORE_SPIKE_H), "v": BEFORE_SPIKE_V,
                           "base": BEFORE_CENTER, "series": LABEL_BEFORE})
after_spk = pd.DataFrame({"t": when(AFTER_SPIKE_H), "v": AFTER_SPIKE_V,
                          "base": AFTER_CENTER, "series": LABEL_AFTER})
pbpm_df = pd.DataFrame({"t": when(PBPM_H), "hi": PBPM_HI, "lo": PBPM_LO, "series": LABEL_PBPM})
pbpm_spk = pd.DataFrame({"t": when(PBPM_SPIKE_H), "v": PBPM_SPIKE_V,
                         "base": PBPM_SPIKE_BASE, "series": LABEL_PBPM})
corr_df = pd.DataFrame({"t": when(CORR_H), "hi": CORR_HI, "lo": CORR_LO, "series": LABEL_CORR})
corr_spk = pd.DataFrame({"t": when(CORR_SPIKE_H), "v": CORR_SPIKE_V,
                         "base": CORR_SPIKE_BASE, "series": LABEL_CORR})

# ---------------------------------------------------------------- shared pieces
W, H = 1187, 197
X_DOMAIN = [alt.DateTime(year=2024, month=4, date=1, hours=22, minutes=13, seconds=20),
            alt.DateTime(year=2024, month=4, date=12, hours=22)]
X_TICKS = [alt.DateTime(year=2024, month=4, date=d) for d in (3, 5, 7, 9, 11)]
GRID = "#cfcfcf"
INK = "#1a1a1a"


def x_enc(with_labels):
    axis = alt.Axis(values=X_TICKS, format="%Y-%m-%d", labels=with_labels, title="Date",
                    grid=True, gridColor=GRID, tickSize=5, labelPadding=1,
                    titlePadding=0 if with_labels else -1, labelFlush=False)
    return alt.X("t:T", scale=alt.Scale(domain=X_DOMAIN), axis=axis)


def legend(offset):
    # a short line sample, 33 px long, drawn from a custom path
    return alt.Legend(title=None, orient="top-left", offset=offset, padding=6,
                      symbolType="M-2.06,0H2.06", symbolSize=256, symbolStrokeWidth=2,
                      symbolOffset=7.5,
                      labelFont=FONT, labelFontSize=16, labelColor=INK, labelLimit=800,
                      labelOffset=22.5, rowPadding=9,
                      fillColor="rgba(255,255,255,0.8)", strokeColor="#cccccc",
                      cornerRadius=4)


def band(df, yscale, yaxis, key, leg, with_labels=False):
    return alt.Chart(df).mark_area(opacity=1, strokeWidth=1).encode(
        x=x_enc(with_labels),
        y=alt.Y("hi:Q", scale=yscale, axis=yaxis),
        y2="lo:Q",
        fill=alt.Fill("series:N", scale=key, legend=leg),
        stroke=alt.Stroke("series:N", scale=key, legend=leg),
    )


def spikes(df, yscale, yaxis, key, leg, with_labels=False, width=1.3):
    return alt.Chart(df).mark_rule(strokeWidth=width).encode(
        x=x_enc(with_labels),
        y=alt.Y("v:Q", scale=yscale, axis=yaxis),
        y2="base:Q",
        stroke=alt.Stroke("series:N", scale=key, legend=leg),
    )


def panel_title(text):
    return alt.TitleParams(text=text, font=FONT, fontSize=19, fontWeight="normal",
                           color=INK, anchor="middle", offset=4)


# ---------------------------------------------------------------- top panel
top_key = alt.Scale(domain=[LABEL_BEFORE, LABEL_AFTER], range=["#0000ff", "#ff8c00"])
top_leg = legend(7)
left_scale = alt.Scale(domain=[57400, 61360], nice=False, zero=False)
left_axis = alt.Axis(orient="left", values=[58000, 59000, 60000, 61000], format="d",
                     title="Position [nm]", labelColor="#0000ff", titleColor="#0000ff",
                     tickColor="#0000ff", grid=True, gridColor=GRID, labelPadding=4,
                     titlePadding=6)
right_scale = alt.Scale(domain=[-45567, -39000], nice=False, zero=False)
right_axis = alt.Axis(orient="right", values=[-44000, -42000, -40000], format="d",
                      title="Position [nm]", labelColor="#ff8c00", titleColor="#ff8c00",
                      tickColor="#ff8c00", labelFontSize=21, grid=False, labelPadding=4,
                      titlePadding=3, titleAngle=270, titleBaseline="top")

before_layer = alt.layer(
    band(before_df, left_scale, left_axis, top_key, top_leg),
    spikes(before_spk, left_scale, left_axis, top_key, top_leg, width=1.2),
)
after_layer = alt.layer(
    band(after_df, right_scale, right_axis, top_key, top_leg),
    spikes(after_spk, right_scale, right_axis, top_key, top_leg, width=1.2),
)
top = alt.layer(before_layer, after_layer).resolve_scale(y="independent").properties(
    width=W, height=H, title=panel_title("BPM Data for 2 Weeks"))

# ---------------------------------------------------------------- middle panel
mid_key = alt.Scale(domain=[LABEL_PBPM], range=["#008000"])
mid_leg = legend(8)
mid_scale = alt.Scale(domain=[-11548, 11786], nice=False, zero=False)
mid_axis = alt.Axis(values=[-10000, -5000, 0, 5000, 10000], format="d", title="Position [nm]",
                    grid=True, gridColor=GRID, labelPadding=4, titlePadding=6)
mid = alt.layer(
    band(pbpm_df, mid_scale, mid_axis, mid_key, mid_leg),
    spikes(pbpm_spk, mid_scale, mid_axis, mid_key, mid_leg),
).properties(width=W, height=H, title=panel_title("PBPM Y Position for 2 Weeks"))

# ---------------------------------------------------------------- bottom panel
bot_key = alt.Scale(domain=[LABEL_CORR], range=["#ff0000"])
bot_leg = legend(8)
bot_scale = alt.Scale(domain=[-0.7432, -0.69485], nice=False, zero=False)
bot_axis = alt.Axis(values=[-0.74, -0.73, -0.72, -0.71, -0.70], format=".2f", title="Current [A]",
                    grid=True, gridColor=GRID, labelPadding=4, titlePadding=6)
bot = alt.layer(
    band(corr_df, bot_scale, bot_axis, bot_key, bot_leg, with_labels=True),
    spikes(corr_spk, bot_scale, bot_axis, bot_key, bot_leg, with_labels=True, width=1.2),
).properties(width=W, height=H, title=panel_title("Current of Corrector Magnet for 2 Weeks"))

chart = (
    alt.vconcat(top, mid, bot, spacing=56, bounds="flush")
    .resolve_scale(y="independent", fill="independent", stroke="independent")
    .resolve_legend(fill="independent", stroke="independent")
    .properties(padding={"left": 13, "top": 8, "right": 8, "bottom": 4})
    .configure_view(stroke="#333333", strokeWidth=1.2)
    .configure_axis(labelFont=FONT, titleFont=FONT, labelFontSize=16, titleFontSize=16,
                    titleFontWeight="normal", labelColor=INK, titleColor=INK,
                    tickColor=INK, tickSize=5, domain=False)
)

chart.save("out.html", embed_options={"renderer": "svg", "actions": False})
